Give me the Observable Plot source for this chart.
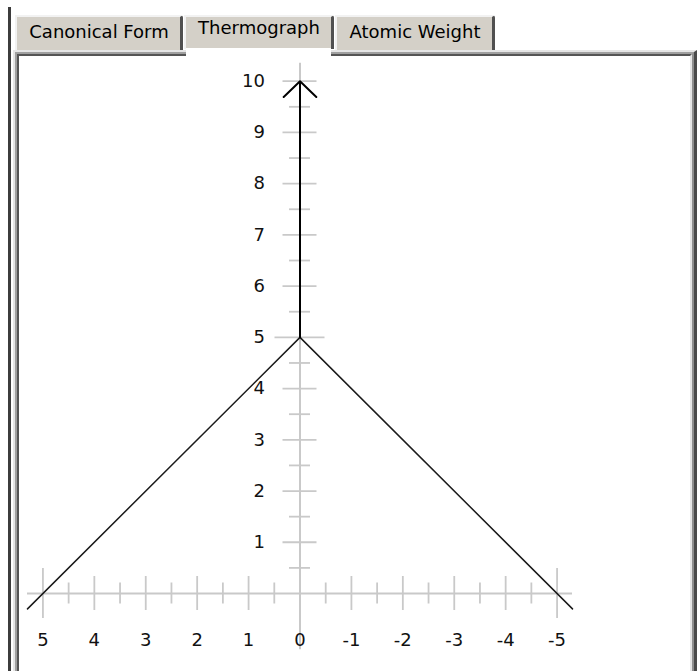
<!DOCTYPE html>
<html>
<head>
<meta charset="utf-8">
<script src="https://cdn.jsdelivr.net/npm/d3@7"></script>
<script src="https://cdn.jsdelivr.net/npm/@observablehq/plot@0.6"></script>
<style>
  html, body { margin: 0; padding: 0; background: #fff; width: 697px; height: 671px; overflow: hidden; }
  body { font-family: "DejaVu Sans", sans-serif; }
  #frame { position: relative; width: 697px; height: 671px; }
  .bar { position: absolute; left: 8px; top: 7px; width: 3px; height: 680px; background: #3c3c3c; }
  .tab { position: absolute; top: 15px; height: 35px; box-sizing: border-box; background: #d4d0c8;
         border-top: 2px solid #f2f2f2; border-left: 2px solid #f2f2f2; border-right: 3px solid #505050;
         border-top-right-radius: 3px; }
  .tab-label { position: absolute; height: 21px; line-height: 21px; font-size: 18px; color: #000;
               text-align: center; white-space: nowrap; }
  .panel { position: absolute; left: 13px; top: 50px; width: 684px; height: 640px; box-sizing: border-box;
           border-top: 2px solid #e6e6e6; border-left: 2px solid #e6e6e6; border-right: 3px solid #4a4a4a; background: #fff; }
  .panel .in1 { position: absolute; inset: 0; border-top: 2px solid #a0a0a0; border-left: 2px solid #a0a0a0; border-right: 2px solid #909090; }
  .panel .in2 { position: absolute; inset: 0; border-top: 2px solid #555; border-left: 2px solid #555; border-right: 2px solid #e6e6e6; background: #fff; }
  .open { position: absolute; left: 186px; top: 48px; width: 145px; height: 9px; background: #fff; }
  #chart { position: absolute; left: 0; top: 0; pointer-events: none; }
</style>
</head>
<body>
<div id="frame">
  <div class="bar"></div>
  <div class="panel"><div class="in1"><div class="in2"></div></div></div>
  <div id="tabs"></div>
  <div class="open"></div>
  <div id="chart"></div>
</div>
<script>
// Tab captions and which one is active
const tabNames = ["Canonical Form", "Thermograph", "Atomic Weight"];
const activeTab = "Thermograph";

// Axis tick values (x runs from left stop 5 down to right stop -5)
const xTickValues = [5, 4, 3, 2, 1, 0, -1, -2, -3, -4, -5];
const yTickValues = [1, 2, 3, 4, 5, 6, 7, 8, 9, 10];
const xMinorTicks = [4.5, 3.5, 2.5, 1.5, 0.5, -0.5, -1.5, -2.5, -3.5, -4.5];
const yMinorTicks = [0.5, 1.5, 2.5, 3.5, 4.5, 5.5, 6.5, 7.5, 8.5, 9.5];
// Stops and mean value get the long ticks
const xLongTicks = [5, -5];
const yLongTicks = [5];

// Extent of the grey axis lines
const xAxisExtent = [5.3, -5.3];
const yAxisExtent = [-1.1, 10.35];

// Thermograph walls (left wall, apex, right wall) and the mast
const wallX = [5.3, 0, -5.3];
const wallY = [-0.3, 5, -0.3];
const mastX = [0, 0];
const mastY = [5, 10];

// ---- tab strip ----
const tabBoxes = { "Canonical Form": [15, 168], "Thermograph": [184, 150], "Atomic Weight": [335, 160] };
const tabsDiv = document.getElementById("tabs");
for (const name of tabNames) {
  const [left, width] = tabBoxes[name];
  const t = document.createElement("div");
  t.className = "tab";
  t.style.left = left + "px";
  t.style.width = width + "px";
  if (name === activeTab) t.style.height = "34px";
  tabsDiv.appendChild(t);
  const l = document.createElement("div");
  l.className = "tab-label";
  l.textContent = name;
  l.style.left = left + "px";
  l.style.width = width + "px";
  l.style.top = (name === activeTab ? 16.5 : 20.5) + "px";
  tabsDiv.appendChild(l);
}

// ---- chart ----
const W = 697, H = 671;
const M = { left: 27, right: 125, top: 80.7, bottom: 78 };
const xDomain = xAxisExtent;
const yDomain = [0, 10];
const pxPerX = (W - M.left - M.right) / (xDomain[0] - xDomain[1]);
const pxPerY = (H - M.top - M.bottom) / (yDomain[1] - yDomain[0]);
const TICK = { minor: 10.5, major: 17, long: 25 }; // half-lengths in px
const axisGrey = "#c9c9c9";

const xMajor = xTickValues.filter(t => t !== 0 && !xLongTicks.includes(t));
const yMajor = yTickValues.filter(t => !yLongTicks.includes(t));
const xTicksOf = (vals, half) => Plot.ruleX(vals, { x: d => d, y1: -half / pxPerY, y2: half / pxPerY, stroke: axisGrey, strokeWidth: 1.8 });
const yTicksOf = (vals, half) => Plot.ruleY(vals, { y: d => d, x1: half / pxPerX, x2: -half / pxPerX, stroke: axisGrey, strokeWidth: 1.8 });

const walls = wallX.map((x, i) => ({ x, y: wallY[i] }));
const mast = [{ x1: mastX[0], y1: mastY[0], x2: mastX[1], y2: mastY[1] }];

const chart = Plot.plot({
  width: W,
  height: H,
  marginLeft: M.left,
  marginRight: M.right,
  marginTop: M.top,
  marginBottom: M.bottom,
  x: { domain: xDomain, axis: null },
  y: { domain: yDomain, axis: null },
  style: { background: "transparent", fontFamily: "DejaVu Sans", fontSize: "18px", overflow: "visible" },
  marks: [
    // grey cross axes
    Plot.ruleY([0], { x1: xAxisExtent[0], x2: xAxisExtent[1], stroke: axisGrey, strokeWidth: 2 }),
    Plot.ruleX([0], { y1: yAxisExtent[0], y2: yAxisExtent[1], stroke: axisGrey, strokeWidth: 2 }),
    xTicksOf(xMinorTicks, TICK.minor),
    xTicksOf(xMajor, TICK.major),
    xTicksOf(xLongTicks, TICK.long),
    yTicksOf(yMinorTicks, TICK.minor),
    yTicksOf(yMajor, TICK.major),
    yTicksOf(yLongTicks, TICK.long),
    // tick labels
    Plot.text(xTickValues, { x: d => d, y: 0, text: d => String(d), dy: 47, fontSize: 18, fill: "#111" }),
    Plot.text(yTickValues, { x: 0, y: d => d, text: d => String(d), textAnchor: "end", dx: -35, fontSize: 18, fill: "#111" }),
    // thermograph
    Plot.line(walls, { x: "x", y: "y", stroke: "#1a1a1a", strokeWidth: 1.5 }),
    Plot.arrow(mast, { x1: "x1", y1: "y1", x2: "x2", y2: "y2", stroke: "#000", strokeWidth: 2, headAngle: 92, headLength: 17 })
  ]
});
document.getElementById("chart").appendChild(chart);
</script>
</body>
</html>
